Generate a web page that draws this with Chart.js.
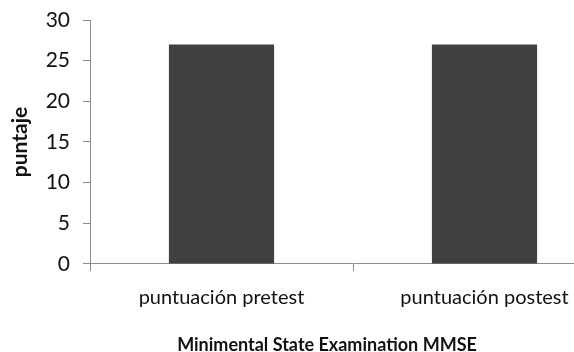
<!DOCTYPE html>
<html>
<head>
<meta charset="utf-8">
<script src="https://cdn.jsdelivr.net/npm/chart.js@4/dist/chart.umd.min.js"></script>
<style>
html,body{margin:0;padding:0;background:#fff;overflow:hidden;width:574px;height:352px;}
#wrap{position:relative;width:654px;height:352px;}
</style>
</head>
<body>
<div id="wrap"><canvas id="c"></canvas></div>
<script>
const categories = ["puntuación pretest", "puntuación postest"];
const scores = [27, 27];
const yTicks = [0, 5, 10, 15, 20, 25, 30];
const yTitle = "puntaje";
const xTitle = "Minimental State Examination MMSE";

const FONT = "Lato, 'Open Sans', sans-serif";
const axisColor = "#8c8c8c";

new Chart(document.getElementById('c'), {
  type: 'bar',
  data: {
    labels: categories,
    datasets: [{
      data: scores,
      backgroundColor: '#404040',
      borderWidth: 0,
      barPercentage: 0.4,
      categoryPercentage: 1.0
    }]
  },
  options: {
    responsive: true,
    maintainAspectRatio: false,
    animation: false,
    devicePixelRatio: 1,
    layout: { padding: { left: 8, right: 8, top: 20, bottom: 0 } },
    plugins: {
      legend: { display: false },
      tooltip: { enabled: false },
      title: {
        display: true,
        position: 'bottom',
        text: xTitle,
        color: '#111',
        font: { family: FONT, size: 18, weight: 'bold', lineHeight: 0.78 },
        padding: { top: 0, bottom: 0 }
      }
    },
    scales: {
      x: {
        offset: true,
        afterFit: s => { s.height = 74; s.paddingLeft = 0; s.paddingRight = 0; },
        grid: { display: true, offset: true, drawOnChartArea: false, drawTicks: true, tickLength: 7, color: axisColor },
        border: { display: true, color: axisColor, width: 1 },
        ticks: { color: '#111', font: { family: FONT, size: 20 }, padding: 15, maxRotation: 0 }
      },
      y: {
        min: 0,
        max: 30,
        afterFit: s => { s.width = 82; s.paddingTop = 0; s.paddingBottom = 0; },
        afterBuildTicks: s => { s.ticks = yTicks.map(v => ({ value: v })); },
        grid: { display: true, drawOnChartArea: false, drawTicks: true, tickLength: 7, color: axisColor },
        border: { display: true, color: axisColor, width: 1 },
        ticks: { color: '#111', font: { family: FONT, size: 21 }, padding: 13 },
        title: {
          display: true,
          text: yTitle,
          color: '#111',
          font: { family: FONT, size: 21, weight: 'bold' },
          padding: { top: 0, bottom: 6 }
        }
      },
      ySpacer: {
        position: 'right',
        display: true,
        min: 0,
        max: 30,
        afterFit: s => { s.width = 30; s.paddingTop = 0; s.paddingBottom = 0; },
        grid: { display: false },
        border: { display: false },
        ticks: { display: false }
      }
    }
  }
});
</script>
</body>
</html>
